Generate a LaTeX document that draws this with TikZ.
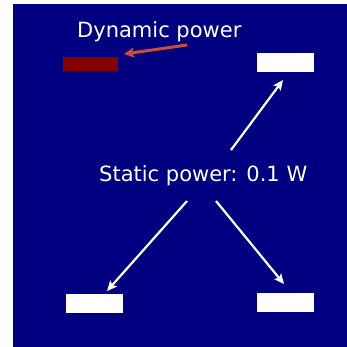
\documentclass[tikz,border=0pt]{standalone}
\usepackage{fontspec}
\setmainfont{DejaVu Sans}
\usetikzlibrary{arrows.meta}
\definecolor{bgblue}{RGB}{0,0,128}
\definecolor{dynred}{RGB}{135,0,0}
\definecolor{arrred}{RGB}{200,78,55}
\tikzset{
  lbl/.style={text=white, font=\fontsize{21}{24}\selectfont, inner sep=0pt, anchor=base west},
  whitebox/.style={fill=white, draw=none, minimum width=57pt, minimum height=19pt, inner sep=0pt, anchor=north west},
  redbox/.style={fill=dynred, draw=none, minimum width=55pt, minimum height=14pt, inner sep=0pt, anchor=north west},
  warrow/.style={draw=white, line width=2.2pt, -{Stealth[length=10pt,width=9pt,inset=2pt]}},
  rarrow/.style={draw=arrred, line width=3pt, -{Stealth[length=10pt,width=10pt,inset=2pt]}}
}
\begin{document}
\begin{tikzpicture}[x=1pt,y=-1pt]
\useasboundingbox (0,0) rectangle (347,347);
\fill[white] (0,0) rectangle (347,347);
\fill[bgblue] (13,4) rectangle (347,347);
% boxes
\node[redbox] (dyn) at (63,57) {};
\node[whitebox] (tr) at (257,53) {};
\node[whitebox] (bl) at (66,294) {};
\node[whitebox] (br) at (257,293) {};
% labels
\node[lbl] (dynlbl) at (77,38) {Dynamic power};
\node[lbl] (statlbl) at (99,181) {Static power: 0.1 W};
% arrow ends
\coordinate (rs) at (187,45);
\coordinate (re) at (124,54);
\coordinate (us) at (231,150);
\coordinate (ue) at (283,80);
\coordinate (ls) at (187,201);
\coordinate (le) at (107,291);
\coordinate (rs2) at (216,201);
\coordinate (re2) at (284,284);
% arrows
\draw[rarrow] (rs) -- (re);
\draw[warrow] (us) -- (ue);
\draw[warrow] (ls) -- (le);
\draw[warrow] (rs2) -- (re2);
\end{tikzpicture}
\end{document}
